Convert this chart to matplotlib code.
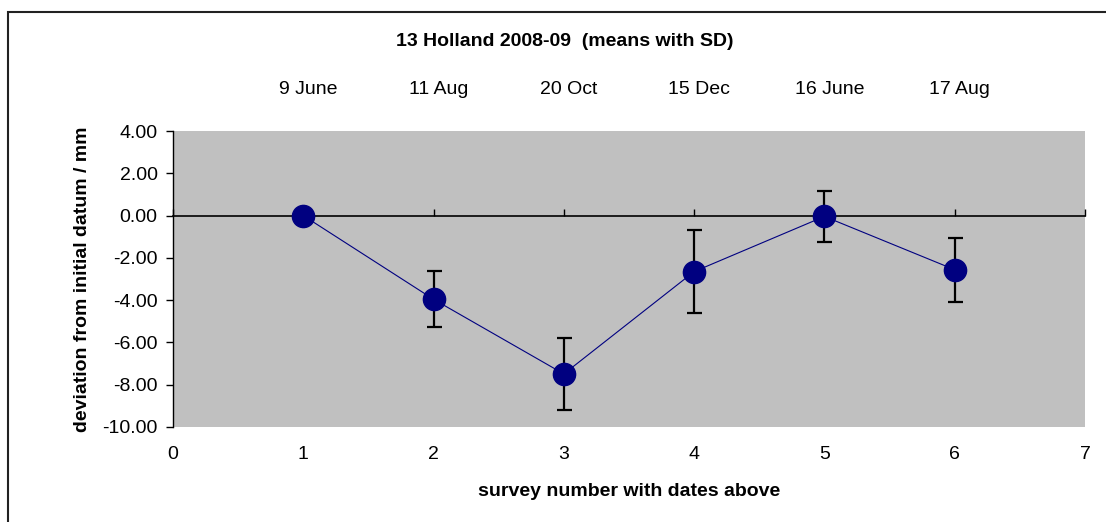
import matplotlib.pyplot as plt
from matplotlib.patches import Rectangle
import matplotlib.transforms as mtransforms

plt.rcParams['font.family'] = ['Liberation Sans', 'DejaVu Sans']

survey = [1, 2, 3, 4, 5, 6]
dates = ["9 June", "11 Aug", "20 Oct", "15 Dec", "16 June", "17 Aug"]
means = [0.0, -3.96, -7.49, -2.65, -0.04, -2.56]
sds = [0.0, 1.33, 1.70, 1.95, 1.21, 1.52]

fig = plt.figure(figsize=(11.06, 5.22), dpi=100)
ax = fig.add_axes([0.1564, 0.182, 0.8246, 0.567])
ax.set_facecolor('#c0c0c0')

# outer chart border (runs past the right and bottom edges)
fig.patches.append(Rectangle((7.5 / 1106, -0.1), 1.2, 1 - 12 / 522 + 0.1,
                             transform=fig.transFigure, fill=False,
                             edgecolor='#222222', linewidth=1.5, clip_on=False))

ax.errorbar(survey, means, yerr=sds, fmt='none', ecolor='black',
            elinewidth=1.6, capsize=5.4, capthick=1.6, zorder=3)
ax.plot(survey, means, color='#000080', linewidth=0.8, marker='o',
        markersize=16, markerfacecolor='#000080', markeredgecolor='#000080',
        zorder=4)

ax.set_xlim(0, 7)
ax.set_ylim(-10, 4)
ax.set_xticks(range(0, 8))
ax.set_yticks(range(-10, 5, 2))
ax.set_yticklabels(["%.2f" % v for v in range(-10, 5, 2)])

for s in ['right', 'bottom']:
    ax.spines[s].set_visible(False)
ax.spines['top'].set_position(('data', 0))
ax.spines['top'].set_linewidth(1.2)
ax.spines['left'].set_linewidth(1.0)

ax.tick_params(axis='x', top=True, bottom=False, labeltop=False,
               labelbottom=True, direction='out', length=5, width=1,
               pad=9, labelsize=14)
ax.tick_params(axis='y', direction='out', length=5, width=1, pad=6,
               labelsize=14)

ax.set_xlabel("survey number with dates above", fontsize=14,
              fontweight='bold', labelpad=14)
ax.set_ylabel("deviation from initial datum / mm", fontsize=14,
              fontweight='bold', labelpad=8)

trans = mtransforms.blended_transform_factory(ax.transData, fig.transFigure)
for x, d in zip(survey, dates):
    ax.text(x + 0.04, 1 - 90 / 522, d, transform=trans, ha='center',
            va='center', fontsize=14)

fig.text(565 / 1106, 1 - 42 / 522, "13 Holland 2008-09  (means with SD)",
         ha='center', va='center', fontsize=14, fontweight='bold')

fig.savefig('out.png', dpi=100, facecolor='white')
